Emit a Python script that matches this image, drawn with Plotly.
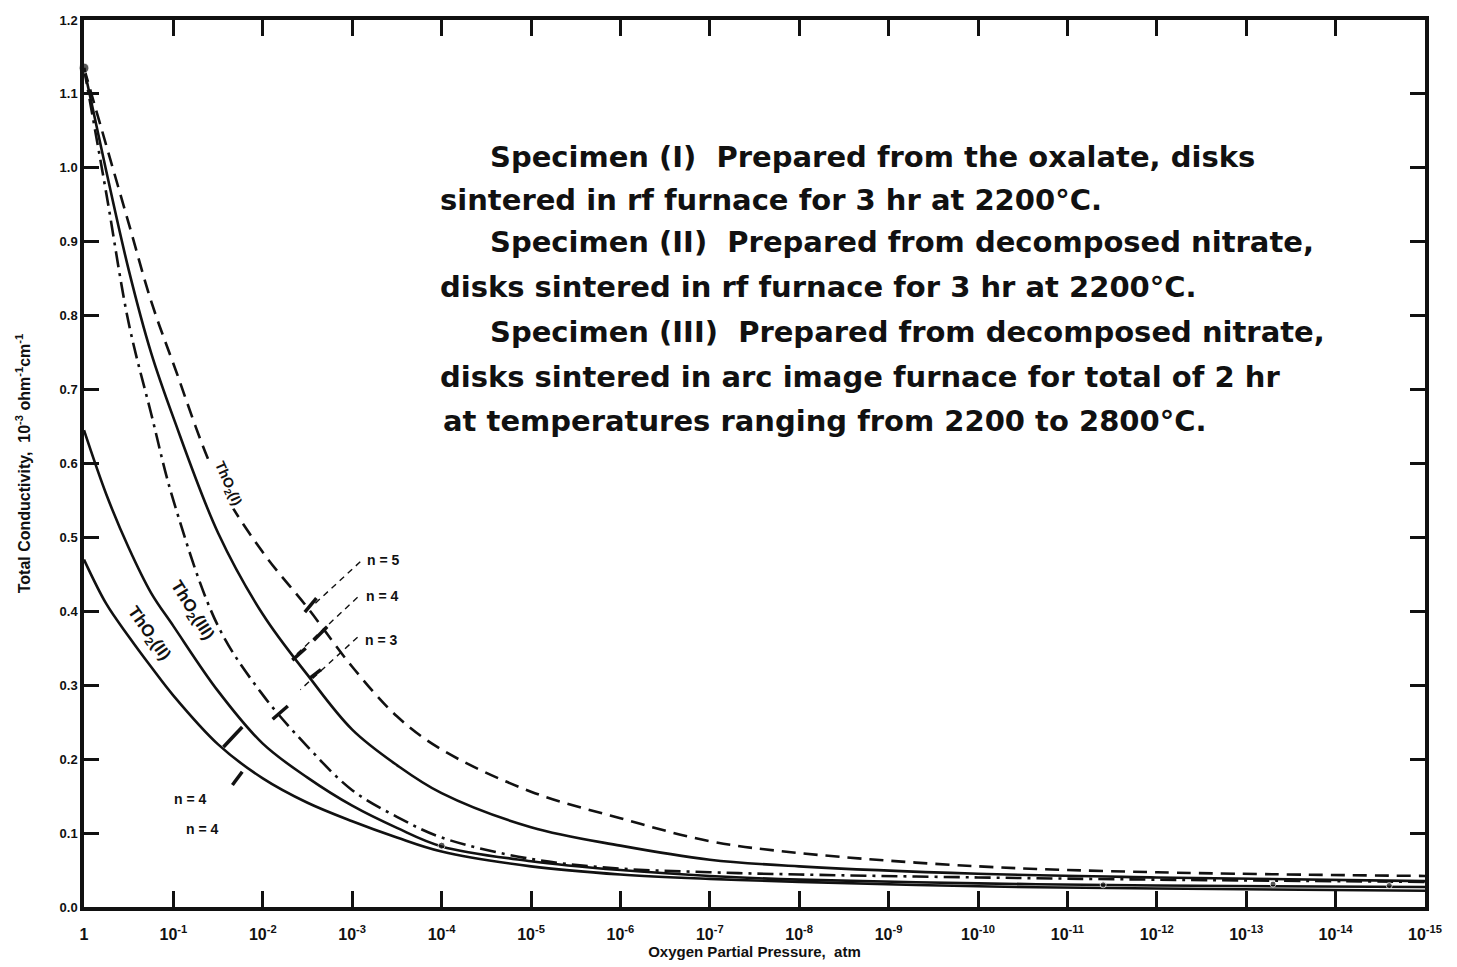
import plotly.graph_objects as go

# Oxygen partial pressure expressed as the decade exponent k (pO2 = 10^-k atm)
log_po2 = [0, 0.25, 0.5, 0.75, 1.0, 1.5, 2.0, 2.5, 3.0, 3.5, 4.0, 5, 6, 7, 8, 10, 12, 15]

# Total conductivity, 10^-3 ohm^-1 cm^-1
fit_n5 = [1.135, 1.03, 0.925, 0.82, 0.735, 0.576, 0.48, 0.405, 0.325, 0.258, 0.213,
          0.156, 0.12, 0.089, 0.073, 0.055, 0.047, 0.042]
spec_1 = [1.135, 0.995, 0.862, 0.75, 0.662, 0.506, 0.396, 0.314, 0.24, 0.192, 0.154,
          0.108, 0.083, 0.064, 0.055, 0.045, 0.040, 0.035]
fit_n3 = [1.135, 0.965, 0.79, 0.668, 0.55, 0.38, 0.287, 0.217, 0.158, 0.122, 0.094,
          0.065, 0.052, 0.047, 0.044, 0.040, 0.037, 0.034]
spec_3 = [0.645, 0.558, 0.486, 0.425, 0.38, 0.292, 0.221, 0.175, 0.137, 0.107, 0.082,
          0.062, 0.05, 0.042, 0.037, 0.032, 0.029, 0.027]
spec_2 = [0.47, 0.41, 0.366, 0.325, 0.286, 0.22, 0.174, 0.141, 0.116, 0.094, 0.075,
          0.055, 0.044, 0.038, 0.034, 0.028, 0.025, 0.022]

x_tick_vals = list(range(16))
x_tick_text = ["1"] + [f"10<sup>-{k}</sup>" for k in range(1, 16)]
y_tick_vals = [round(0.1 * i, 1) for i in range(13)]

# slope labels and their leader lines (text position, leader start, leader end)
n_labels = ["n = 5", "n = 4", "n = 3", "n = 4", "n = 4"]
n_label_x = [3.35, 3.34, 3.33, 1.19, 1.33]
n_label_y = [0.470, 0.421, 0.361, 0.146, 0.106]
leader_x0 = [3.09, 3.06, 3.06]
leader_y0 = [0.467, 0.419, 0.365]
leader_x1 = [2.57, 2.37, 2.42]
leader_y1 = [0.409, 0.341, 0.294]

# short tangent marks drawn across the curves
mark_x0 = [2.47, 2.33, 2.57, 2.11, 2.53, 1.56, 1.66]
mark_y0 = [0.399, 0.334, 0.361, 0.254, 0.310, 0.2165, 0.165]
mark_x1 = [2.60, 2.48, 2.72, 2.28, 2.65, 1.77, 1.77]
mark_y1 = [0.418, 0.350, 0.379, 0.272, 0.321, 0.2436, 0.183]

# measured points marked on the curves
dot_x = [0, 4.0, 11.4, 13.3, 14.6]
dot_y = [1.135, 0.083, 0.030, 0.031, 0.029]

curve_names = ["ThO<sub>2</sub>(I)", "ThO<sub>2</sub>(III)", "ThO<sub>2</sub>(II)"]
curve_label_x = [1.61, 1.20, 0.72]
curve_label_y = [0.572, 0.40, 0.37]
curve_label_size = [14, 17, 17]
curve_label_angle = [66, 58, 55]

notes = [
    "Specimen (I)  Prepared from the oxalate, disks",
    "sintered in rf furnace for 3 hr at 2200°C.",
    "Specimen (II)  Prepared from decomposed nitrate,",
    "disks sintered in rf furnace for 3 hr at 2200°C.",
    "Specimen (III)  Prepared from decomposed nitrate,",
    "disks sintered in arc image furnace for total of 2 hr",
    "at temperatures ranging from 2200 to 2800°C.",
]
note_x = [4.52, 3.96, 4.52, 3.96, 4.52, 3.96, 3.99]
note_y = [1.015, 0.957, 0.899, 0.839, 0.778, 0.717, 0.658]

INK = "#111111"
BODY = "DejaVu Sans"
SMALL = "Liberation Sans"
fig = go.Figure()

line_specs = [
    (fit_n5, "14px,8px"),
    (spec_1, "solid"),
    (fit_n3, "16px,6px,3px,6px"),
    (spec_3, "solid"),
    (spec_2, "solid"),
]
for ys, dash in line_specs:
    fig.add_trace(go.Scatter(
        x=log_po2, y=ys, mode="lines",
        line=dict(color=INK, width=2.6, dash=dash, shape="spline", smoothing=1.0),
        showlegend=False, hoverinfo="skip"))

fig.add_trace(go.Scatter(
    x=dot_x, y=dot_y, mode="markers",
    marker=dict(color=INK, size=[10, 7, 6, 6, 6]),
    showlegend=False, hoverinfo="skip", cliponaxis=False))

for i in range(len(leader_x0)):
    fig.add_shape(type="line", x0=leader_x0[i], y0=leader_y0[i],
                  x1=leader_x1[i], y1=leader_y1[i],
                  line=dict(color=INK, width=1.4, dash="6px,5px"))
for i in range(len(mark_x0)):
    fig.add_shape(type="line", x0=mark_x0[i], y0=mark_y0[i],
                  x1=mark_x1[i], y1=mark_y1[i],
                  line=dict(color=INK, width=3.5))

for txt, x, y in zip(n_labels, n_label_x, n_label_y):
    fig.add_annotation(x=x, y=y, text=txt, showarrow=False, xanchor="center",
                       font=dict(family=SMALL, size=14, color=INK, weight="bold"))

for txt, x, y, s, a in zip(curve_names, curve_label_x, curve_label_y,
                           curve_label_size, curve_label_angle):
    fig.add_annotation(x=x, y=y, text=txt, showarrow=False, textangle=a,
                       bgcolor="white",
                       font=dict(family=SMALL, size=s, color=INK, weight="bold"))

for txt, x, y in zip(notes, note_x, note_y):
    fig.add_annotation(x=x, y=y, text=txt, showarrow=False, xanchor="left",
                       yanchor="middle",
                       font=dict(family=BODY, size=29, color=INK, weight="bold"))

tick_font = dict(family=SMALL, size=16, color=INK, weight="bold")
fig.update_xaxes(
    range=[0, 15], tickvals=x_tick_vals, ticktext=x_tick_text, automargin=False,
    ticks="inside", ticklen=16, tickwidth=2.5, tickcolor=INK,
    showline=True, linecolor=INK, linewidth=3.5, mirror="ticks",
    showgrid=False, zeroline=False, tickfont=tick_font, ticklabelstandoff=10,
    title=dict(text="Oxygen Partial Pressure,  atm", standoff=6,
               font=dict(family=SMALL, size=15, color=INK, weight="bold")),
)
fig.update_yaxes(
    range=[0, 1.2], tickvals=y_tick_vals, tickformat=".1f", automargin=False,
    ticks="inside", ticklen=15, tickwidth=2.5, tickcolor=INK,
    showline=True, linecolor=INK, linewidth=3.5, mirror="ticks",
    showgrid=False, zeroline=False, tickfont=dict(tick_font, size=13),
    title=dict(text="Total Conductivity,  10<sup>-3</sup> ohm<sup>-1</sup>cm<sup>-1</sup>",
               standoff=26,
               font=dict(family=SMALL, size=16, color=INK, weight="bold")),
)
fig.update_layout(
    width=1457, height=967,
    margin=dict(l=84, r=32, t=20, b=60),
    paper_bgcolor="white", plot_bgcolor="white",
)
fig.write_html("out.html")
